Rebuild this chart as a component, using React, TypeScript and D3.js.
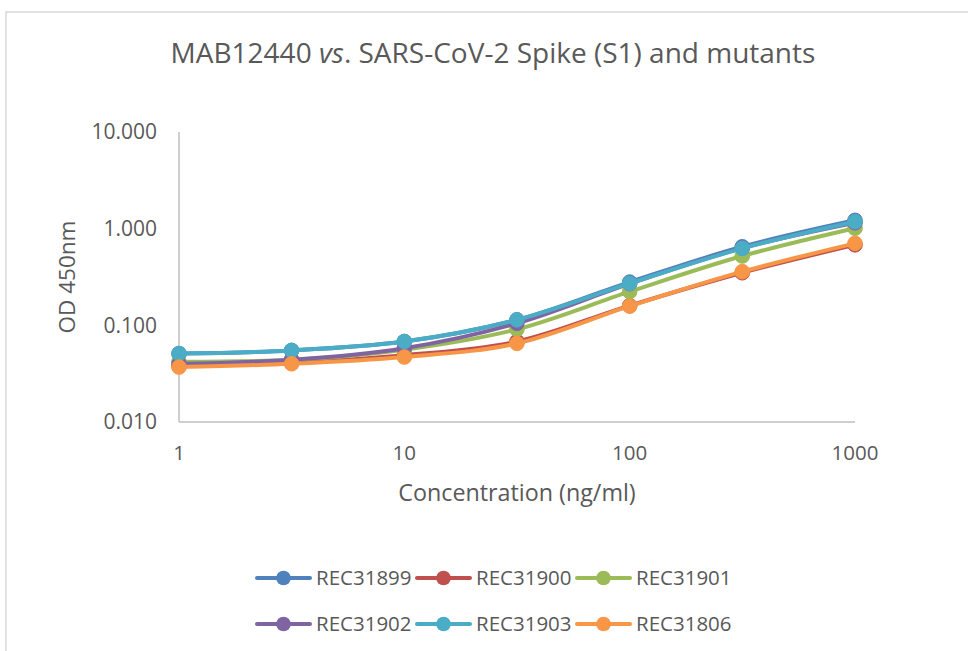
import React from "react";
import * as d3 from "d3";

const concentrations = [1, 3.16, 10, 31.6, 100, 316, 1000];
const seriesNames = ["REC31899", "REC31900", "REC31901", "REC31902", "REC31903", "REC31806"];
const rec31899 = [0.051, 0.055, 0.068, 0.114, 0.28, 0.65, 1.22];
const rec31900 = [0.038, 0.041, 0.049, 0.068, 0.16, 0.35, 0.68];
const rec31901 = [0.042, 0.044, 0.056, 0.091, 0.223, 0.521, 1.01];
const rec31902 = [0.040, 0.044, 0.058, 0.105, 0.27, 0.63, 1.15];
const rec31903 = [0.051, 0.055, 0.068, 0.114, 0.272, 0.626, 1.18];
const rec31806 = [0.037, 0.040, 0.047, 0.065, 0.158, 0.359, 0.705];
const seriesValues = [rec31899, rec31900, rec31901, rec31902, rec31903, rec31806];
const colors = ["#4F81BD", "#C0504D", "#9BBB59", "#8064A2", "#4BACC6", "#F79646"];
const xTicks = [1, 10, 100, 1000];
const yTicks = [0.01, 0.1, 1, 10];

const W = 968;
const H = 651;
const FONT = "'Open Sans', sans-serif";
const TXT = "#595959";

export default function App() {
  const x = d3.scaleLog().domain([1, 1000]).range([179, 855]);
  const y = d3.scaleLog().domain([0.01, 10]).range([422, 132]);
  const line = d3
    .line<[number, number]>()
    .x((d) => x(d[0]))
    .y((d) => y(d[1]))
    .curve(d3.curveCatmullRom.alpha(0.5));

  const legendCols = [257, 417, 577];
  const legendRows = [578, 624];

  return (
    <svg width={W} height={H} style={{ position: "absolute", left: 0, top: 0 }}>
      <rect x={0} y={0} width={W} height={H} fill="#fff" />
      <path d={`M6,${H} L6,12 L${W},12`} fill="none" stroke="#D9D9D9" strokeWidth={1.5} />
      <text x={493} y={53} dy="0.35em" textAnchor="middle" fontFamily={FONT} fontSize={28} fill={TXT}>
        MAB12440 <tspan fontStyle="italic">vs</tspan>. SARS-CoV-2 Spike (S1) and mutants
      </text>
      {/* axes */}
      <line x1={x(1)} x2={x(1)} y1={y(10)} y2={y(0.01)} stroke="#BFBFBF" strokeWidth={1.5} />
      <line x1={x(1)} x2={x(1000)} y1={y(0.01)} y2={y(0.01)} stroke="#BFBFBF" strokeWidth={1.5} />
      {yTicks.map((t) => (
        <text key={t} x={157} y={y(t)} dy="0.35em" textAnchor="end" fontFamily={FONT} fontSize={21} fill={TXT}>
          {d3.format(".3f")(t)}
        </text>
      ))}
      {xTicks.map((t) => (
        <text key={t} x={x(t)} y={453} dy="0.35em" textAnchor="middle" fontFamily={FONT} fontSize={20.5} fill={TXT}>
          {String(t)}
        </text>
      ))}
      <text
        transform={`translate(67,${(y(10) + y(0.01)) / 2}) rotate(-90)`}
        dy="0.35em"
        textAnchor="middle"
        fontFamily={FONT}
        fontSize={22.5}
        fill={TXT}
      >
        OD 450nm
      </text>
      <text x={517} y={493} dy="0.35em" textAnchor="middle" fontFamily={FONT} fontSize={23.3} fill={TXT}>
        Concentration (ng/ml)
      </text>
      {/* series */}
      {seriesValues.map((vals, i) => {
        const pts = concentrations.map((c, j) => [c, vals[j]] as [number, number]);
        return (
          <g key={seriesNames[i]}>
            <path d={line(pts) || ""} fill="none" stroke={colors[i]} strokeWidth={4} strokeLinecap="round" />
            {pts.map((p, j) => (
              <circle key={j} cx={x(p[0])} cy={y(p[1])} r={7.3} fill={colors[i]} stroke={colors[i]} strokeWidth={1} />
            ))}
          </g>
        );
      })}
      {/* legend */}
      {seriesNames.map((name, i) => {
        const lx = legendCols[i % 3];
        const ly = legendRows[Math.floor(i / 3)];
        return (
          <g key={name}>
            <line x1={lx} x2={lx + 53} y1={ly} y2={ly} stroke={colors[i]} strokeWidth={4} strokeLinecap="round" />
            <circle cx={lx + 26.5} cy={ly} r={7.3} fill={colors[i]} />
            <text x={lx + 59} y={ly} dy="0.35em" fontFamily={FONT} fontSize={20.5} fill={TXT}>
              {name}
            </text>
          </g>
        );
      })}
    </svg>
  );
}
